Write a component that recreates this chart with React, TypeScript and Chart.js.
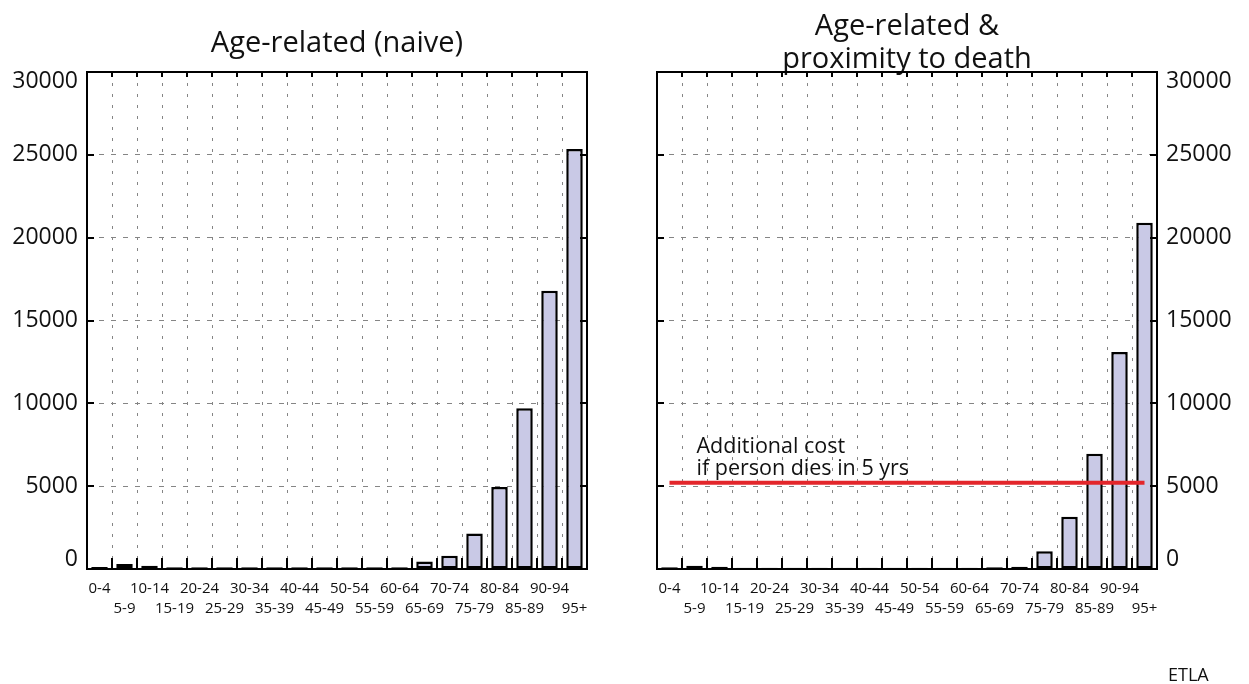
import React, { useEffect, useRef } from 'react';
import { Chart, registerables } from 'chart.js';

Chart.register(...registerables);

// ---- data ----
const ageGroups = [
  '0-4', '5-9', '10-14', '15-19', '20-24', '25-29', '30-34', '35-39', '40-44', '45-49',
  '50-54', '55-59', '60-64', '65-69', '70-74', '75-79', '80-84', '85-89', '90-94', '95+',
];
const naiveCost = [
  120, 300, 200, 110, 110, 110, 110, 110, 110, 110,
  110, 110, 110, 450, 800, 2150, 4950, 9700, 16800, 25350,
];
const proximityCost = [
  100, 200, 130, 70, 70, 70, 70, 70, 70, 70,
  70, 70, 70, 100, 130, 1070, 3150, 6950, 13100, 20900,
];
const additionalCostLevel = 5200;
const additionalCostText = ['Additional cost', 'if person dies in 5 yrs'];
const leftTitle = 'Age-related (naive)';
const rightTitle = ['Age-related &', 'proximity to death'];
const sourceText = 'ETLA';
const yMin = 0;
const yMax = 30000;
const yStep = 5000;

// ---- styles ----
const FONT = "'Open Sans', 'Noto Sans', 'DejaVu Sans', sans-serif";
const TEXT = '#111111';
const BAR_FILL = '#c9c9e6';
const GRID = '#858585';
const RED = '#e3262b';

const framePlugin = {
  id: 'matlabFrame',
  afterDatasetsDraw(chart: any) {
    const { ctx, chartArea, scales } = chart;
    const { left, right, top, bottom } = chartArea;
    const x = scales.x;
    const y = scales.y;
    ctx.save();
    ctx.strokeStyle = '#000';
    ctx.lineWidth = 2;
    ctx.beginPath();
    for (let i = 1; i < ageGroups.length; i++) {
      const px = Math.round(x.getPixelForValue(i - 0.5));
      ctx.moveTo(px, bottom);
      ctx.lineTo(px, bottom - 11);
      ctx.moveTo(px, top);
      ctx.lineTo(px, top + 5);
    }
    y.ticks.forEach((t: any) => {
      if (t.value <= yMin || t.value >= yMax) return;
      const py = Math.round(y.getPixelForValue(t.value));
      ctx.moveTo(left, py);
      ctx.lineTo(left + 7, py);
      ctx.moveTo(right, py);
      ctx.lineTo(right - 7, py);
    });
    ctx.stroke();
    ctx.lineWidth = 2;
    ctx.strokeRect(Math.round(left), Math.round(top), Math.round(right - left), Math.round(bottom - top));
    ctx.restore();
  },
};

const annotationPlugin = {
  id: 'additionalCostText',
  afterDatasetsDraw(chart: any) {
    const { ctx, scales } = chart;
    const x0 = scales.x.getPixelForValue(0) + 27;
    const yLine = scales.y.getPixelForValue(additionalCostLevel);
    ctx.save();
    ctx.fillStyle = TEXT;
    ctx.font = `21.5px ${FONT}`;
    ctx.textAlign = 'left';
    ctx.textBaseline = 'alphabetic';
    ctx.fillText(additionalCostText[0], x0, yLine - 30);
    ctx.fillText(additionalCostText[1], x0, yLine - 8);
    ctx.restore();
  },
};

const sourcePlugin = {
  id: 'sourceText',
  afterDraw(chart: any) {
    const { ctx } = chart;
    ctx.save();
    ctx.fillStyle = TEXT;
    ctx.font = `18px ${FONT}`;
    ctx.textAlign = 'left';
    ctx.textBaseline = 'alphabetic';
    ctx.fillText(sourceText, chart.width - 81, 681);
    ctx.restore();
  },
};

type PanelProps = {
  values: number[];
  title: string | string[];
  axisSide: 'left' | 'right';
  offsetLeft: number;
  width: number;
  titlePadding: { top: number; bottom: number };
  titleLineHeight: number;
  annotated: boolean;
};

function Panel(props: PanelProps) {
  const ref = useRef<HTMLCanvasElement>(null);
  useEffect(() => {
    const canvas = ref.current;
    if (!canvas) return;
    const isLeft = props.axisSide === 'left';
    const datasets: any[] = [
      {
        type: 'bar',
        data: props.values,
        backgroundColor: BAR_FILL,
        borderColor: '#000',
        borderWidth: 2.5,
        borderSkipped: false,
        barPercentage: 0.66,
        categoryPercentage: 1,
        order: 1,
      },
    ];
    if (props.annotated) {
      datasets.push({
        type: 'line',
        data: [
          { x: ageGroups[0], y: additionalCostLevel },
          { x: ageGroups[ageGroups.length - 1], y: additionalCostLevel },
        ],
        borderColor: RED,
        borderWidth: 4,
        pointRadius: 0,
        fill: false,
        order: 0,
      });
    }
    const chart = new Chart(canvas, {
      type: 'bar',
      data: { labels: ageGroups, datasets },
      options: {
        animation: false,
        responsive: false,
        events: [],
        layout: { padding: { left: isLeft ? 0 : 33, right: isLeft ? 37 : 0, top: 0, bottom: 0 } },
        plugins: {
          legend: { display: false },
          tooltip: { enabled: false },
          title: {
            display: true,
            fullSize: false,
            text: props.title,
            color: TEXT,
            font: { family: FONT, size: 29, weight: 'normal', lineHeight: props.titleLineHeight },
            padding: props.titlePadding,
          },
        },
        scales: {
          x: {
            type: 'category',
            offset: true,
            grid: { offset: true, color: GRID, lineWidth: 1, drawTicks: false },
            border: { display: false, dash: [3, 8] },
            ticks: {
              autoSkip: false,
              maxRotation: 0,
              minRotation: 0,
              padding: 10,
              color: TEXT,
              font: { family: FONT, size: 15, lineHeight: 1.3 },
              callback: (_v: any, i: number) => (i % 2 === 0 ? [ageGroups[i], ''] : ['', ageGroups[i]]),
            },
            afterFit: (s: any) => {
              s.height = 115;
            },
          },
          y: {
            position: props.axisSide,
            min: yMin,
            max: yMax,
            grid: { color: GRID, lineWidth: 1, drawTicks: false },
            border: { display: false, dash: [5, 7] },
            ticks: {
              stepSize: yStep,
              padding: 9,
              color: TEXT,
              font: { family: FONT, size: 23, lineHeight: 0.8 },
              callback: (v: any) => {
                const s = String(v);
                if (v === yMax) return ['', s];
                if (v === yMin) return [s, ''];
                return s;
              },
            },
            afterFit: (s: any) => {
              s.width = isLeft ? 87 : 92;
            },
          },
        },
      } as any,
      plugins: [framePlugin, ...(props.annotated ? [annotationPlugin, sourcePlugin] : [])],
    } as any);
    return () => chart.destroy();
  }, []);
  return (
    <canvas
      ref={ref}
      width={props.width}
      height={684}
      style={{ position: 'absolute', left: props.offsetLeft, top: 0, display: 'block' }}
    />
  );
}

export default function App() {
  return (
    <div style={{ position: 'absolute', left: 0, top: 0, width: 1249, height: 684, background: '#fff', overflow: 'hidden' }}>
      <Panel
        values={naiveCost}
        title={leftTitle}
        axisSide="left"
        offsetLeft={0}
        width={624}
        titlePadding={{ top: 26.3, bottom: 10.9 }}
        titleLineHeight={1.2}
        annotated={false}
      />
      <Panel
        values={proximityCost}
        title={rightTitle}
        axisSide="right"
        offsetLeft={624}
        width={625}
        titlePadding={{ top: 10.6, bottom: -4.1 }}
        titleLineHeight={1.13}
        annotated={true}
      />
    </div>
  );
}
